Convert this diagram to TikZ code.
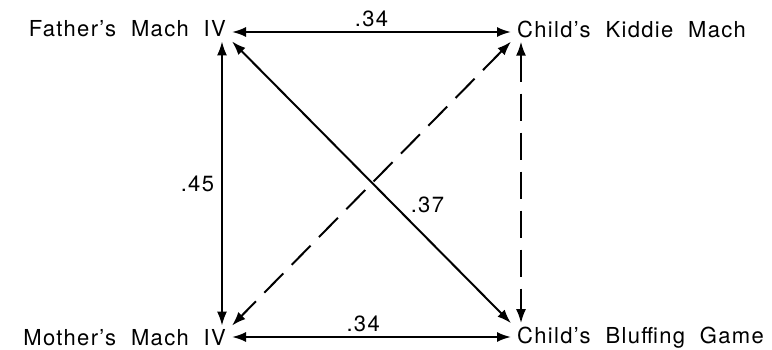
\documentclass[tikz,border=0pt]{standalone}
\usepackage{fontspec}
\setmainfont{TeX Gyre Heros}[WordSpace=2.0, LetterSpace=6]
\usepackage{tikz}
\usetikzlibrary{arrows.meta,calc}

\begin{document}
\begin{tikzpicture}[x=1pt, y=1pt]
\tikzset{
  measure/.style={inner xsep=6pt, inner ysep=4pt, font=\fontsize{22}{26}\selectfont},
  corr/.style={{Latex[length=14pt,width=10pt]}-{Latex[length=14pt,width=10pt]}, line width=2pt},
  weak/.style={corr, dash pattern=on 27pt off 12pt},
  coef/.style={font=\fontsize{22}{26}\selectfont, inner sep=1pt}
}
\useasboundingbox (0,0) rectangle (772,350);

\node[measure, anchor=east] (father) at (232,321) {Father's Mach IV};
\node[measure, anchor=west] (kiddie) at (511,321) {Child's Kiddie Mach};
\node[measure, anchor=east] (mother) at (232,12) {Mother's Mach IV};
\node[measure, anchor=west] (bluff) at (511,12) {Child's Bluffing Game};

\draw[corr] ([yshift=-3pt]father.east) -- node[coef, above=3pt] {.34} ([yshift=-3pt]kiddie.west);
\draw[corr] ([yshift=1pt]mother.east) -- node[coef, pos=0.47, above=3pt] {.34} ([yshift=1pt]bluff.west);
\draw[corr] ([xshift=-10pt]father.south east) -- node[coef, left=6pt] {.45} ([xshift=-10pt]mother.north east);
\draw[corr] (father.south east) -- node[coef, pos=0.58, right=15pt] {.37} (bluff.north west);
\draw[weak] (kiddie.south west) -- (mother.north east);
\draw[weak] ([xshift=10pt]kiddie.south west) -- ([xshift=10pt]bluff.north west);
\end{tikzpicture}
\end{document}
